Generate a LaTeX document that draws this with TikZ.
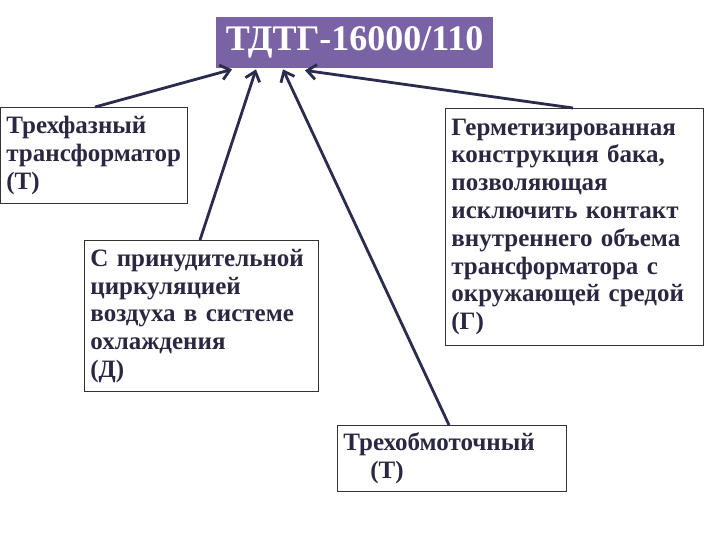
\documentclass[tikz,border=0pt]{standalone}
\usepackage{fontspec}
\setmainfont{Liberation Serif}
\usetikzlibrary{arrows.meta}
\definecolor{titlefill}{HTML}{7A63A5}
\definecolor{inkdark}{HTML}{2A2840}
\definecolor{linedark}{HTML}{2B2B4E}
\tikzset{
  infobox/.style={draw=black!80, line width=0.8pt, fill=white, anchor=north west,
    align=left, inner xsep=6pt, inner ysep=4pt,
    font=\fontsize{25}{27.8}\selectfont\bfseries, text=inkdark},
  conn/.style={draw=linedark, line width=2.8pt, -{Straight Barb[length=9pt,width=15pt,line width=2.8pt]}}
}
\begin{document}
\begin{tikzpicture}[x=1pt,y=-1pt]
\useasboundingbox (0,0) rectangle (720,540);
\node[fill=titlefill, text=white, font=\fontsize{36}{40}\selectfont\bfseries,
  minimum width=277pt, minimum height=51pt, anchor=north west, inner sep=0pt] (t) at (216,17) {ТДТГ-16000/110};
\node[infobox, minimum width=187pt, minimum height=96pt, text width=175pt] (b1) at (0,107)
  {Трехфазный\\трансформатор\\(Т)};
\node[infobox, minimum width=234pt, minimum height=151pt, text width=222pt] (b2) at (84,240)
  {С принудительной\\циркуляцией\\воздуха в системе\\охлаждения\\(Д)};
\node[infobox, minimum width=258pt, minimum height=237pt, text width=246pt] (b3) at (445,108)
  {Герметизированная\\конструкция бака,\\позволяющая\\исключить контакт\\внутреннего объема\\трансформатора с\\окружающей средой\\(Г)};
\node[infobox, minimum width=229pt, minimum height=66pt, text width=217pt] (b4) at (337,425)
  {Трехобмоточный\\\hspace*{27pt}(Т)};
\draw[conn] ([xshift=95pt]b1.north west) -- ([xshift=16pt,yshift=-1pt]t.south west);
\draw[conn] ([xshift=116pt]b2.north west) -- ([xshift=40pt,yshift=-1pt]t.south west);
\draw[conn] ([xshift=112pt]b4.north west) -- ([xshift=67pt,yshift=-1pt]t.south west);
\draw[conn] ([xshift=128pt]b3.north west) -- ([xshift=89pt,yshift=-2pt]t.south west);
\end{tikzpicture}
\end{document}
